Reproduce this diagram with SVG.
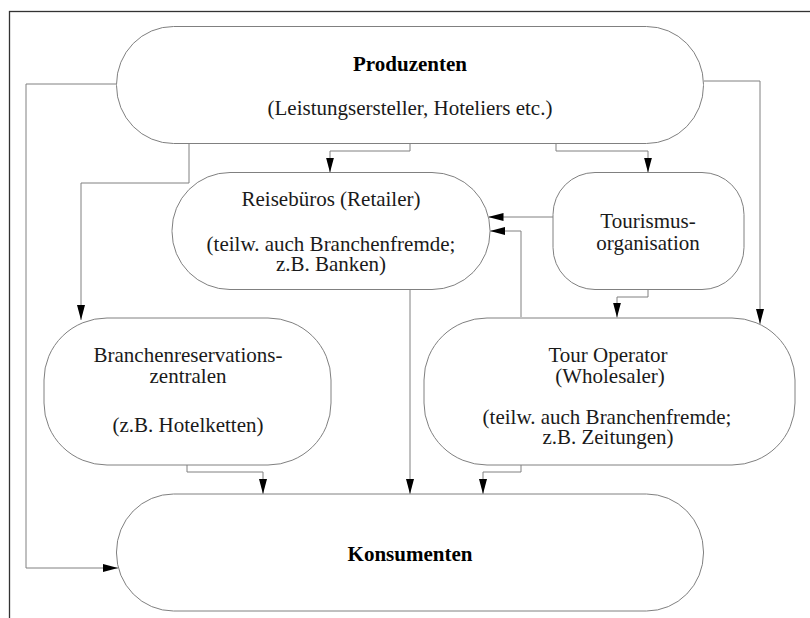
<svg xmlns="http://www.w3.org/2000/svg" width="810" height="618" viewBox="0 0 810 618">
<style>
.frame{fill:none;stroke:#333;stroke-width:1.3}
.node{fill:#fff;stroke:#808080;stroke-width:1}
.conn{fill:none;stroke:#808080;stroke-width:1}
.t{font-size:21px;fill:#1a1a1a;text-anchor:middle}
.b{font-weight:bold;fill:#000}
</style>
<defs>
<marker id="ah" markerUnits="userSpaceOnUse" markerWidth="15" markerHeight="8" refX="15" refY="4" orient="auto">
<path d="M0,0 L15,4 L0,8 z" fill="#000"/>
</marker>
</defs>
<rect width="810" height="618" fill="#fff"/>
<rect class="frame" x="9.5" y="11.5" width="900" height="700"/>

<g id="connectors" class="conn" marker-end="url(#ah)">
<path d="M410,143 V151 H330 V172.5"/>
<path d="M556,143 V151 H648 V172.5"/>
<path d="M189,143 V183 H81 V320"/>
<path d="M704,81 H760 V324"/>
<path d="M116,84 H26 V568 H118"/>
<path d="M553,217 H488.5"/>
<path d="M521,317 V231 H490"/>
<path d="M648,289 V297 H617 V317.5"/>
<path d="M187,465 V472 H263 V494"/>
<path d="M410,289 V494"/>
<path d="M521,465 V472 H483 V494"/>
</g>

<g font-family="Liberation Serif, Tinos, DejaVu Serif, serif">
<g id="produzenten">
<rect class="node" x="116.5" y="26.5" width="587" height="117" rx="57" ry="58"/>
<text class="t b" x="410" y="71">Produzenten</text>
<text class="t" x="410" y="115">(Leistungsersteller, Hoteliers etc.)</text>
</g>

<g id="reisebueros">
<rect class="node" x="172" y="172.5" width="318" height="117" rx="58" ry="58"/>
<text class="t" x="331" y="206">Reisebüros (Retailer)</text>
<text class="t" x="331" y="251">(teilw. auch Branchenfremde;</text>
<text class="t" x="331" y="271">z.B. Banken)</text>
</g>

<g id="tourismusorganisation">
<rect class="node" x="553" y="172.5" width="191" height="117" rx="42" ry="42"/>
<text class="t" x="648" y="228">Tourismus-</text>
<text class="t" x="648" y="250">organisation</text>
</g>

<g id="branchenreservationszentralen">
<rect class="node" x="44" y="318" width="287" height="147" rx="63" ry="62"/>
<text class="t" x="188" y="362">Branchenreservations-</text>
<text class="t" x="188" y="383">zentralen</text>
<text class="t" x="188" y="432">(z.B. Hotelketten)</text>
</g>

<g id="touroperator">
<rect class="node" x="424" y="318" width="371" height="147" rx="63" ry="62"/>
<text class="t" x="608" y="362">Tour Operator</text>
<text class="t" x="610" y="383">(Wholesaler)</text>
<text class="t" x="607" y="424">(teilw. auch Branchenfremde;</text>
<text class="t" x="608" y="444">z.B. Zeitungen)</text>
</g>

<g id="konsumenten">
<rect class="node" x="116.5" y="494" width="587" height="117" rx="57" ry="58"/>
<text class="t b" x="410" y="561">Konsumenten</text>
</g>
</g>
</svg>
